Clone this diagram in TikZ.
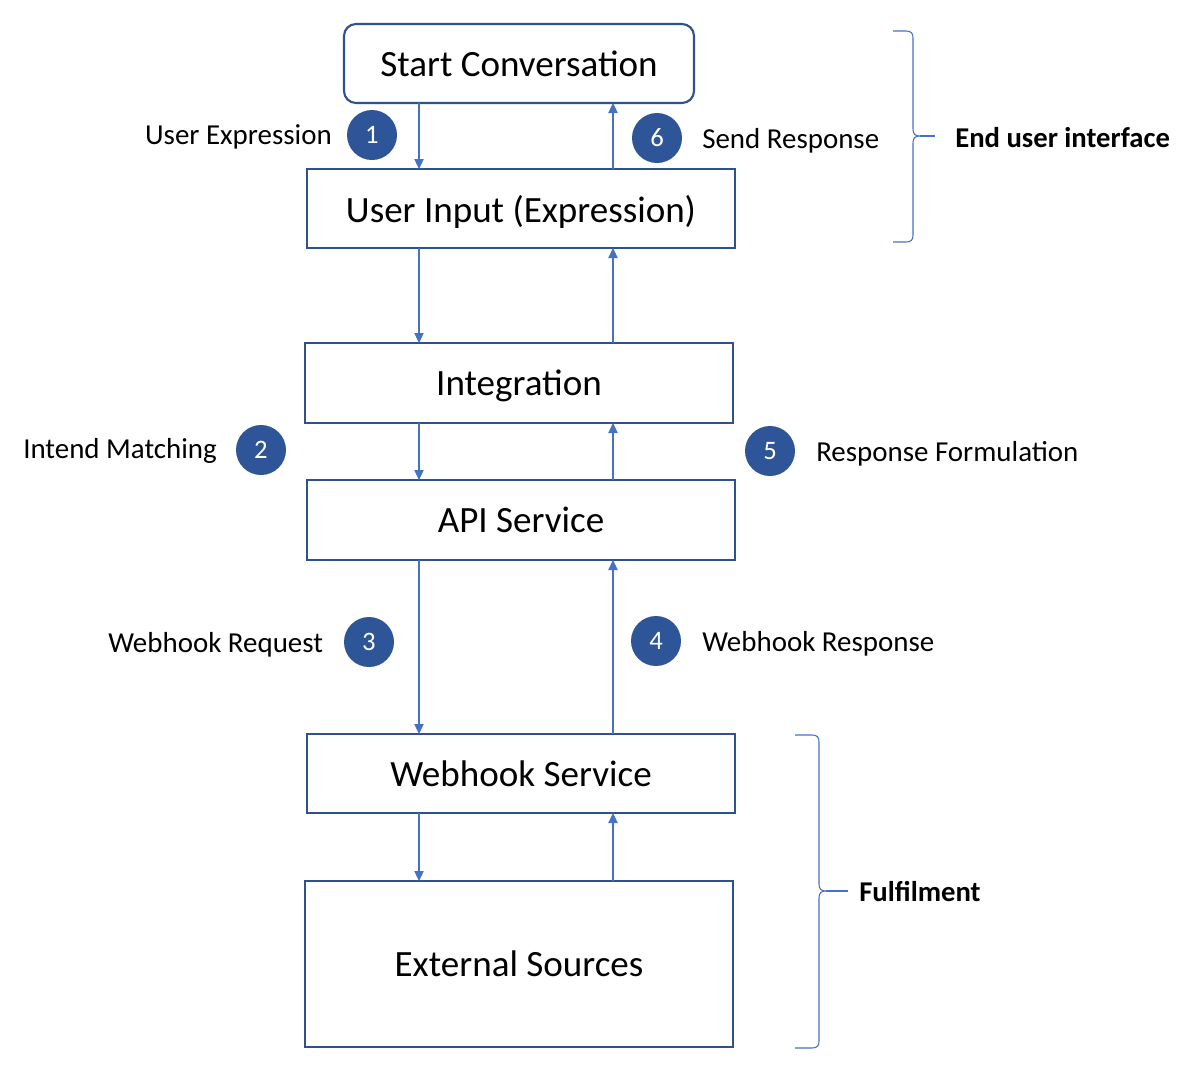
\documentclass[tikz,border=0pt]{standalone}
\usepackage{fontspec}
\setmainfont{Carlito}
\usetikzlibrary{arrows.meta}
\definecolor{boxc}{HTML}{2F528F}
\definecolor{arrc}{HTML}{4472C4}
\definecolor{circc}{HTML}{2E5597}
\begin{document}
\begin{tikzpicture}[x=0.75pt,y=-0.75pt,
  box/.style={draw=boxc,line width=1.6pt,fill=white,inner sep=0pt,outer sep=0pt,
    font=\fontsize{27.8}{32}\selectfont,minimum width=321pt,text depth=-2pt},
  arr/.style={draw=arrc,line width=0.8pt,-{Triangle[length=7.5pt,width=7pt]}},
  numc/.style={circle,fill=circc,text=white,minimum size=37.5pt,inner sep=0pt,
    font=\fontsize{20}{24}\selectfont},
  lbl/.style={inner sep=0pt,font=\fontsize{21.7}{26}\selectfont},
  blbl/.style={inner sep=0pt,font=\fontsize{21.5}{26}\selectfont\bfseries},
  brace/.style={draw=arrc,line width=0.8pt}]
\useasboundingbox (0,0) rectangle (1199,1076);
\fill[white] (0,0) rectangle (1199,1076);

\node[box,rounded corners=9pt,minimum width=262.5pt,minimum height=59.25pt] (start) at (519,63.5) {Start Conversation};
\node[box,minimum height=59.25pt] (input) at (521,208.5) {User Input (Expression)};
\node[box,minimum height=60pt] (integ) at (519,383) {Integration};
\node[box,minimum height=60pt] (api) at (521,520) {API Service};
\node[box,minimum height=59.25pt] (webhook) at (521,773.5) {Webhook Service};
\node[box,minimum height=124.5pt] (ext) at (519,964) {External Sources};

\coordinate (dx) at (419,0);
\coordinate (ux) at (613,0);

\draw[arr] (start.south -| dx) -- (input.north -| dx);
\draw[arr] (input.north -| ux) -- (start.south -| ux);
\draw[arr] (input.south -| dx) -- (integ.north -| dx);
\draw[arr] (integ.north -| ux) -- (input.south -| ux);
\draw[arr] (integ.south -| dx) -- (api.north -| dx);
\draw[arr] (api.north -| ux) -- (integ.south -| ux);
\draw[arr] (api.south -| dx) -- (webhook.north -| dx);
\draw[arr] (webhook.north -| ux) -- (api.south -| ux);
\draw[arr] (webhook.south -| dx) -- (ext.north -| dx);
\draw[arr] (ext.north -| ux) -- (webhook.south -| ux);

\node[numc] (c1) at (372,135) {1};
\node[numc] (c6) at (657,138) {6};
\node[numc] (c2) at (261,450) {2};
\node[numc] (c5) at (770,451) {5};
\node[numc] (c3) at (369,642) {3};
\node[numc] (c4) at (656,641) {4};

\node[lbl,anchor=east] (l1) at (332,137) {User Expression};
\node[lbl,anchor=west] (l6) at (702,141) {Send Response};
\node[lbl,anchor=west] (l2) at (23,451) {Intend Matching};
\node[lbl,anchor=west] (l5) at (816,454) {Response Formulation};
\node[lbl,anchor=west] (l3) at (108,645) {Webhook Request};
\node[lbl,anchor=west] (l4) at (702,644) {Webhook Response};

% brace 1
\draw[brace] (893,31) -- (906,31) .. controls (911,31) and (913,33) .. (913,38)
  -- (913,129) .. controls (913,134) and (915,136) .. (920,136)
  .. controls (915,136) and (913,138) .. (913,143)
  -- (913,235) .. controls (913,240) and (911,242) .. (906,242) -- (893,242);
\draw[brace] (920,136) -- (935,136);
\node[blbl,anchor=west] (b1) at (955,138) {End user interface};

% brace 2
\draw[brace] (795,735) -- (812,735) .. controls (817,735) and (819,737) .. (819,742)
  -- (819,884) .. controls (819,889) and (821,891) .. (826,891)
  .. controls (821,891) and (819,893) .. (819,898)
  -- (819,1041) .. controls (819,1046) and (817,1048) .. (812,1048) -- (795,1048);
\draw[brace] (826,891) -- (848,891);
\node[blbl,anchor=west] (b2) at (859,892) {Fulfilment};
\end{tikzpicture}
\end{document}
